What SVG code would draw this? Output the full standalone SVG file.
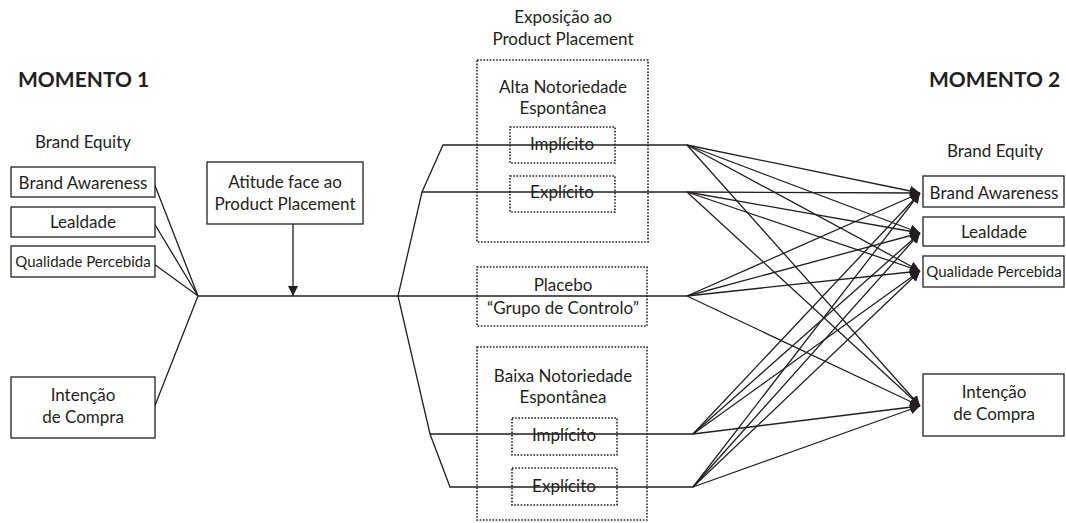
<svg xmlns="http://www.w3.org/2000/svg" width="1066" height="523" viewBox="0 0 1066 523">
<style>
text{font-family:Lato,"Open Sans",sans-serif;fill:#231f20;text-anchor:middle;font-size:17px}
.h{font-weight:bold;font-size:21px;text-anchor:start}
.sm{font-size:15px}
.box{fill:#fff;stroke:#231f20;stroke-width:1.3}
.dot{fill:none;stroke:#231f20;stroke-width:1.6;stroke-dasharray:1.6 1.6}
.ln{fill:none;stroke:#231f20;stroke-width:1.3}
</style>
<defs>
<marker id="ah" markerUnits="userSpaceOnUse" markerWidth="12" markerHeight="12" refX="10" refY="5" orient="auto">
<path d="M0,0 L10,5 L0,10 Z" fill="#231f20"/>
</marker>
</defs>
<rect width="1066" height="523" fill="#fff"/>
<text class="h" x="18" y="87">MOMENTO 1</text>
<text class="h" x="929" y="87">MOMENTO 2</text>
<text x="83" y="148">Brand Equity</text>
<text x="995" y="157">Brand Equity</text>
<g id="connectors">
<polyline class="ln" points="154,183 198,296 154,223"/>
<line class="ln" x1="154" y1="264" x2="198" y2="296"/>
<line class="ln" x1="154" y1="408" x2="198" y2="296"/>
<line class="ln" x1="198" y1="296" x2="398" y2="296"/>
<line class="ln" x1="293" y1="224" x2="293" y2="296" marker-end="url(#ah)"/>
<polyline class="ln" points="687,145 443,145 422,192 398,296 430,434 450,487 693,487"/>
<line class="ln" x1="422" y1="192" x2="687" y2="192"/>
<line class="ln" x1="398" y1="296" x2="687" y2="296"/>
<line class="ln" x1="430" y1="434" x2="693" y2="434"/>
<g marker-end="url(#ah)">
<line class="ln" x1="687" y1="145" x2="920" y2="193"/>
<line class="ln" x1="687" y1="145" x2="920" y2="233"/>
<line class="ln" x1="687" y1="145" x2="920" y2="271"/>
<line class="ln" x1="687" y1="145" x2="920" y2="406"/>
<line class="ln" x1="687" y1="192" x2="920" y2="193"/>
<line class="ln" x1="687" y1="192" x2="920" y2="233"/>
<line class="ln" x1="687" y1="192" x2="920" y2="271"/>
<line class="ln" x1="687" y1="192" x2="920" y2="406"/>
<line class="ln" x1="687" y1="296" x2="920" y2="193"/>
<line class="ln" x1="687" y1="296" x2="920" y2="233"/>
<line class="ln" x1="687" y1="296" x2="920" y2="271"/>
<line class="ln" x1="687" y1="296" x2="920" y2="406"/>
<line class="ln" x1="693" y1="434" x2="920" y2="193"/>
<line class="ln" x1="693" y1="434" x2="920" y2="233"/>
<line class="ln" x1="693" y1="434" x2="920" y2="271"/>
<line class="ln" x1="693" y1="434" x2="920" y2="406"/>
<line class="ln" x1="693" y1="487" x2="920" y2="193"/>
<line class="ln" x1="693" y1="487" x2="920" y2="233"/>
<line class="ln" x1="693" y1="487" x2="920" y2="271"/>
<line class="ln" x1="693" y1="487" x2="920" y2="406"/>
</g>
</g>
<g id="l-ba"><rect class="box" x="11" y="167" width="144" height="30"/><text x="83" y="189">Brand Awareness</text></g>
<g id="l-lea"><rect class="box" x="11" y="207" width="144" height="30"/><text x="83" y="228">Lealdade</text></g>
<g id="l-qp"><rect class="box" x="11" y="246" width="144" height="31"/><text class="sm" x="83" y="267">Qualidade Percebida</text></g>
<g id="l-ic"><rect class="box" x="11" y="377" width="144" height="61"/><text x="83" y="401">Intenção</text><text x="83" y="423">de Compra</text></g>
<g id="atitude"><rect class="box" x="207" y="162" width="156" height="62"/><text x="285" y="188">Atitude face ao</text><text x="285" y="210">Product Placement</text></g>
<g id="exposicao"><text x="563" y="23">Exposição ao</text><text x="563" y="45">Product Placement</text></g>
<g id="alta"><rect class="dot" x="477" y="60" width="171" height="182"/><text x="563" y="93">Alta Notoriedade</text><text x="563" y="114">Espontânea</text></g>
<g id="alta-imp"><rect class="dot" x="510" y="127" width="105" height="36"/><text x="562" y="150">Implícito</text></g>
<g id="alta-exp"><rect class="dot" x="510" y="176" width="105" height="36"/><text x="562" y="198">Explícito</text></g>
<g id="placebo"><rect class="dot" x="477" y="267" width="170" height="59"/><text x="563" y="291">Placebo</text><text x="563" y="314">“Grupo de Controlo”</text></g>
<g id="baixa"><rect class="dot" x="477" y="347" width="170" height="173"/><text x="563" y="382">Baixa Notoriedade</text><text x="563" y="403">Espontânea</text></g>
<g id="baixa-imp"><rect class="dot" x="512" y="418" width="105" height="37"/><text x="564" y="441">Implícito</text></g>
<g id="baixa-exp"><rect class="dot" x="512" y="468" width="105" height="37"/><text x="564" y="492">Explícito</text></g>
<g id="r-ba"><rect class="box" x="923" y="176" width="141" height="31"/><text x="994" y="199">Brand Awareness</text></g>
<g id="r-lea"><rect class="box" x="923" y="217" width="141" height="29"/><text x="994" y="238">Lealdade</text></g>
<g id="r-qp"><rect class="box" x="923" y="256" width="141" height="31"/><text class="sm" x="994" y="277">Qualidade Percebida</text></g>
<g id="r-ic"><rect class="box" x="923" y="374" width="141" height="62"/><text x="994" y="398">Intenção</text><text x="994" y="420">de Compra</text></g>
</svg>
